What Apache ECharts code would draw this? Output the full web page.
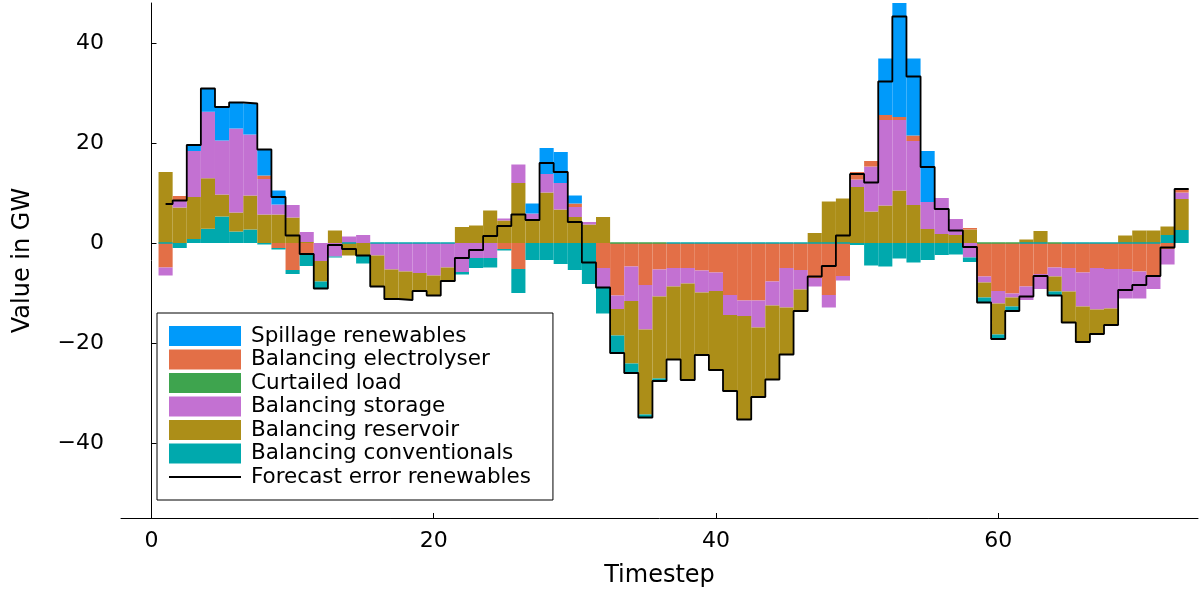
<!DOCTYPE html>
<html>
<head>
<meta charset="utf-8">
<script src="https://cdn.jsdelivr.net/npm/echarts@6/dist/echarts.min.js"></script>
<style>
  html, body { margin: 0; padding: 0; background: #fff; }
  #chart { width: 1203px; height: 594px; }
</style>
</head>
<body>
<div id="chart"></div>
<script>
// timesteps 1..73
const timesteps = Array.from({ length: 73 }, (_, i) => i + 1);

// values in GW
const spillage = [
  0, 0, 1.3, 4.7, 6.7, 5.2, 6.2, 5.2, 2.8, 0,
  0, 0, 0, 0, 0, 0, 0, 0, 0, 0,
  0, 0, 0, 0, 0, 0, 2.0, 5.2, 6.2, 1.6,
  0, 0, 0, 0, 0, 0, 0, 0, 0, 0,
  0, 0, 0, 0, 0, 0, 0, 0, 0, 0,
  0, 11.3, 23.2, 15.4, 10.2, 0, 0, 0, 0, 0,
  0, 0, 0, 0, 0, 0, 0, 0, 0, 0,
  0, 0, 0
];
const electrolyser = [
  -4.9, 0.9, 0, 0, 0, 0, 0, 0.7, -1.0, -5.4,
  -2.3, 0, 0, 0, 0, 0, 0, 0, 0, 0,
  0, 0, 0, 0, -1.2, -5.2, 0, 0, 0, 0.7,
  0, -5.0, -10.5, -4.7, -8.4, -5.3, -5.0, -5.0, -5.5, -5.9,
  -10.4, -11.5, -11.5, -7.7, -5.0, -5.4, -7.0, -10.4, -6.6, 1.5,
  1.1, 1.0, 0.6, 1.1, 0, 0, 0, 0.3, -6.7, -9.6,
  -10.1, -8.7, -6.2, -4.9, -5.0, -5.9, -5.0, -5.2, -5.2, -5.7,
  -6.6, -1.2, 0.7
];
const curtailed = [
  0, 0, 0, 0, 0, 0, 0, 0, 0, 0,
  0, 0, 0, 0, 0, 0, 0, 0, 0, 0,
  0, 0, 0, 0, 0, 0, 0, 0, 0, 0,
  0, 0, 0, 0, 0, 0, 0, 0, 0, 0,
  0, 0, 0, 0, 0, 0, 0, 0, 0, 0,
  0, 0, 0, 0, 0, 0, 0, 0, 0, 0,
  0, 0, 0, 0, 0, 0, 0, 0, 0, 0,
  0, 0, 0
];
const storage = [
  -1.6, 1.4, 9.2, 13.3, 10.8, 16.8, 12.2, 7.1, 2.0, 2.5,
  2.0, -3.6, -2.7, 1.3, 1.6, -2.5, -5.3, -5.7, -6.0, -6.5,
  -4.9, -5.8, -3.0, -3.0, 0.4, 3.7, 1.1, 3.7, 5.3, 2.0,
  0.5, -3.9, -2.7, -6.9, -8.9, -5.4, -3.7, -3.1, -4.4, -3.7,
  -4.0, -3.1, -5.4, -4.8, -7.9, -3.9, -1.7, -2.5, -0.9, 1.5,
  9.0, 17.1, 14.1, 12.8, 5.4, 7.2, 3.2, -2.9, -1.2, -2.5,
  -0.8, -2.7, -3.0, -1.8, -4.7, -6.8, -8.3, -7.9, -5.9, -5.4,
  -2.6, -3.1, 1.3
];
const reservoir = [
  14.2, 7.1, 8.4, 10.1, 4.4, 3.8, 6.8, 5.7, 5.7, 5.1,
  0.2, -4.1, 2.5, -2.5, -2.5, -6.2, -5.9, -5.7, -3.6, -4.0,
  -2.7, 3.2, 3.5, 6.5, 4.5, 12.0, 4.8, 10.1, 6.7, 5.2,
  3.7, 5.2, -5.3, -12.5, -17.0, -16.4, -14.6, -19.3, -12.5, -15.8,
  -15.2, -20.7, -13.9, -14.8, -9.4, -4.3, 2.0, 8.3, 8.9, 11.2,
  6.3, 7.5, 10.5, 7.6, 2.8, 1.8, 1.6, 2.7, -3.0, -6.2,
  -1.8, 0.7, 2.4, -3.0, -6.2, -7.0, -4.9, -3.3, 1.5, 2.5,
  2.5, 1.7, 6.2
];
const conventionals = [
  0, -1.0, 0.8, 2.85, 5.3, 2.3, 2.7, -0.3, -0.3, -0.8,
  -2.3, -1.4, -0.2, 0, -1.6, 0, 0, 0, 0, 0,
  0, -0.5, -2.0, -1.9, -0.3, -4.8, -3.4, -3.4, -4.2, -5.4,
  -8.2, -5.2, -3.5, -1.9, -0.6, -0.5, 0, 0, 0, 0,
  0, 0, 0, 0, 0, 0, 0, 0, 0, -0.4,
  -4.5, -4.7, -3.1, -3.9, -3.4, -2.4, -2.3, -0.9, -1.0, -0.9,
  -0.9, 0, 0, -0.7, 0, 0, 0, 0, 0, 0,
  0, 1.6, 2.6
];
const forecastError = [
  7.8, 8.5, 19.6, 30.9, 27.2, 28.1, 27.9, 18.7, 9.2, 1.5,
  -2.2, -9.1, -0.4, -1.2, -2.5, -8.7, -11.2, -11.4, -9.6, -10.5,
  -7.6, -3.0, -1.4, 1.4, 3.4, 5.7, 4.6, 16.0, 14.2, 4.2,
  -3.9, -8.9, -22.0, -26.0, -34.9, -27.6, -23.3, -27.4, -22.4, -25.4,
  -29.6, -35.3, -30.8, -27.3, -22.3, -13.6, -6.7, -4.6, 1.5, 13.8,
  12.1, 32.3, 45.3, 33.3, 15.2, 6.8, 2.5, -0.8, -11.9, -19.2,
  -13.6, -10.7, -6.6, -10.5, -15.9, -19.8, -18.2, -16.4, -9.4, -8.4,
  -6.6, -0.9, 10.8
];

const xTicks = [0, 20, 40, 60];
const yTicks = [-40, -20, 0, 20, 40];

// legend order; positives stack upward from the last one, negatives downward from the first
const components = [
  { name: 'Spillage renewables', color: '#009AFA', values: spillage },
  { name: 'Balancing electrolyser', color: '#E36F47', values: electrolyser },
  { name: 'Curtailed load', color: '#3EA44E', values: curtailed },
  { name: 'Balancing storage', color: '#C371D2', values: storage },
  { name: 'Balancing reservoir', color: '#AC8E18', values: reservoir },
  { name: 'Balancing conventionals', color: '#00A9AD', values: conventionals }
];
const lineName = 'Forecast error renewables';

// value first so that the stack is computed on y, not on the x value axis
function barSeries(comp, stack, keep) {
  return {
    name: comp.name,
    type: 'bar',
    stack: stack,
    barWidth: '100%',
    barGap: '-100%',
    encode: { x: 1, y: 0 },
    itemStyle: { color: comp.color },
    data: timesteps.map((t, i) => [keep(comp.values[i]) ? comp.values[i] : null, t])
  };
}

// zero-height bars still show as a thin outline at 0 in the original
function zeroLine(color, keep) {
  return {
    type: 'custom',
    silent: true,
    z: 5,
    data: timesteps.filter((t, i) => keep(i)).map(t => [t, 0]),
    renderItem: function (params, api) {
      const a = api.coord([api.value(0) - 0.5, api.value(1)]);
      const b = api.coord([api.value(0) + 0.5, api.value(1)]);
      return {
        type: 'line',
        shape: { x1: a[0], y1: a[1], x2: b[0], y2: b[1] },
        style: { stroke: color, lineWidth: 1.5 }
      };
    }
  };
}

const series = [];
components.slice().reverse().forEach(c => series.push(barSeries(c, 'pos', v => v > 0)));
components.forEach(c => series.push(barSeries(c, 'neg', v => v < 0)));
series.push(zeroLine('#3EA44E', i => curtailed[i] === 0 && conventionals[i] < 0 &&
  electrolyser[i] < 0 && storage[i] <= 0 && reservoir[i] <= 0));
series.push(zeroLine('#00A9AD', i => conventionals[i] === 0));

// step line: starts at the first timestep, changes half way between timesteps
const lineData = [[timesteps[0], forecastError[0]]]
  .concat(timesteps.map((t, i) => [t + 0.5, forecastError[i]]));
series.push({
  name: lineName,
  type: 'line',
  step: 'start',
  symbol: 'none',
  z: 10,
  lineStyle: { color: '#000', width: 1.8 },
  itemStyle: { color: '#000' },
  data: lineData
});

const minus = v => String(v).replace('-', '\u2212');

const chart = echarts.init(document.getElementById('chart'));
chart.setOption({
  animation: false,
  textStyle: { fontFamily: 'DejaVu Sans' },
  grid: { left: 121, right: 5, top: 3, bottom: 76, containLabel: false },
  legend: {
    orient: 'vertical',
    left: 157,
    top: 313,
    itemWidth: 72,
    itemHeight: 20,
    itemGap: 1.5,
    padding: [12, 22, 12, 11],
    backgroundColor: '#fff',
    borderColor: '#000',
    borderWidth: 1,
    selectedMode: false,
    textStyle: { fontSize: 21.5, color: '#000', padding: [0, 0, 0, 5] },
    data: components.map(c => ({ name: c.name, icon: 'rect' }))
      .concat([{ name: lineName, itemStyle: { opacity: 0 } }])
  },
  xAxis: {
    type: 'value',
    min: -2.16,
    max: 74.16,
    name: 'Timestep',
    nameLocation: 'middle',
    nameGap: 46,
    nameTextStyle: { fontSize: 24, color: '#000' },
    axisLine: { onZero: false, lineStyle: { color: '#000', width: 1 } },
    axisTick: { inside: true, length: 5, customValues: xTicks, lineStyle: { color: '#000' } },
    axisLabel: { customValues: xTicks, fontSize: 22, color: '#000', margin: 12 },
    splitLine: { show: false }
  },
  yAxis: {
    type: 'value',
    min: -55,
    max: 48,
    name: 'Value in GW',
    nameLocation: 'middle',
    nameGap: 86,
    nameTextStyle: { fontSize: 24, color: '#000' },
    axisLine: { show: true, lineStyle: { color: '#000', width: 1 } },
    axisTick: { show: true, inside: true, length: 5, customValues: yTicks, lineStyle: { color: '#000' } },
    axisLabel: { customValues: yTicks, fontSize: 22, color: '#000', margin: 17, formatter: minus },
    splitLine: { show: false }
  },
  series: series
});
</script>
</body>
</html>
